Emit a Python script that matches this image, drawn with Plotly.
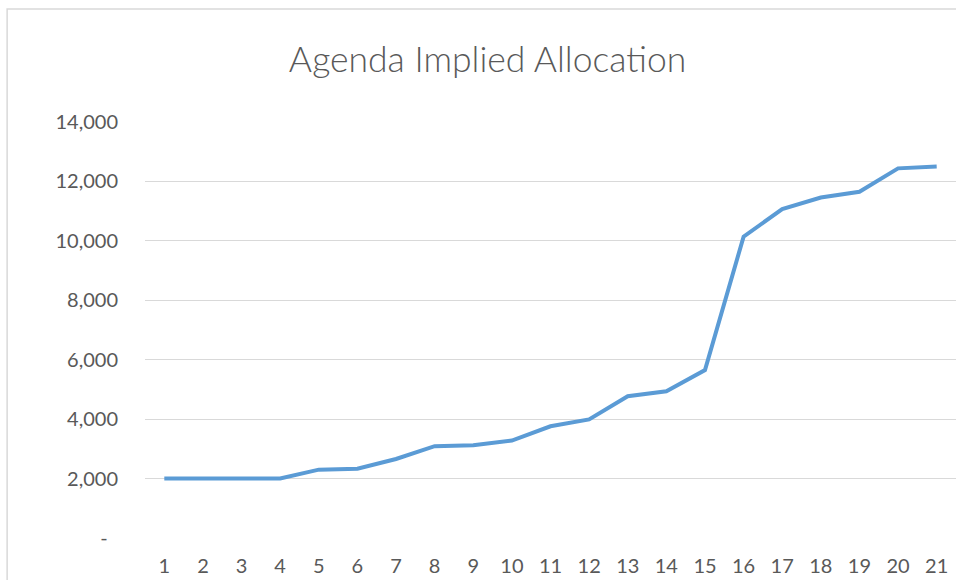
import plotly.graph_objects as go

categories = list(range(1, 22))
allocation = [2000, 2000, 2000, 2000, 2300, 2330, 2660, 3090, 3120, 3280, 3760,
              3990, 4770, 4940, 5650, 10140, 11070, 11460, 11650, 12440, 12500]
y_tick_vals = [0, 2000, 4000, 6000, 8000, 10000, 12000, 14000]
y_tick_text = ["-\u00a0\u00a0", "2,000", "4,000", "6,000", "8,000", "10,000", "12,000", "14,000"]

fig = go.Figure()
fig.add_trace(go.Scatter(
    x=categories, y=allocation, mode="lines",
    line=dict(color="#5B9BD5", width=4),
    hoverinfo="x+y", showlegend=False,
))

font_family = "Lato, 'Open Sans', sans-serif"
fig.update_layout(
    width=956, height=580,
    margin=dict(l=145, r=0, t=122, b=42),
    paper_bgcolor="white", plot_bgcolor="white",
    title=dict(text="Agenda Implied Allocation", x=0.51, xanchor="center",
               y=0.898, yanchor="middle",
               font=dict(family=font_family, size=35.5, color="#595959", weight=300)),
    font=dict(family=font_family, size=20, color="#595959"),
    xaxis=dict(range=[0.5, 21.5], tickmode="array", tickvals=categories,
               ticktext=[str(c) for c in categories], showgrid=False,
               zeroline=False, showline=False, ticks="",
               ticklabelstandoff=14, tickfont=dict(size=20, color="#595959")),
    yaxis=dict(range=[0, 14000], tickmode="array", tickvals=y_tick_vals,
               ticktext=y_tick_text, showgrid=True, gridcolor="#d9d9d9",
               gridwidth=1, zeroline=False, showline=False, ticks="",
               ticklabelstandoff=26, tickfont=dict(size=20, color="#595959")),
    shapes=[dict(type="rect", xref="paper", yref="paper",
                 x0=-0.170, x1=1.05, y0=-0.3, y1=1.2716,
                 line=dict(color="#d9d9d9", width=1.5), fillcolor="rgba(0,0,0,0)",
                 layer="below")],
)

fig.write_html("out.html", config={"displayModeBar": False},
               post_script="document.body.style.margin='0';document.body.style.overflow='hidden';")
